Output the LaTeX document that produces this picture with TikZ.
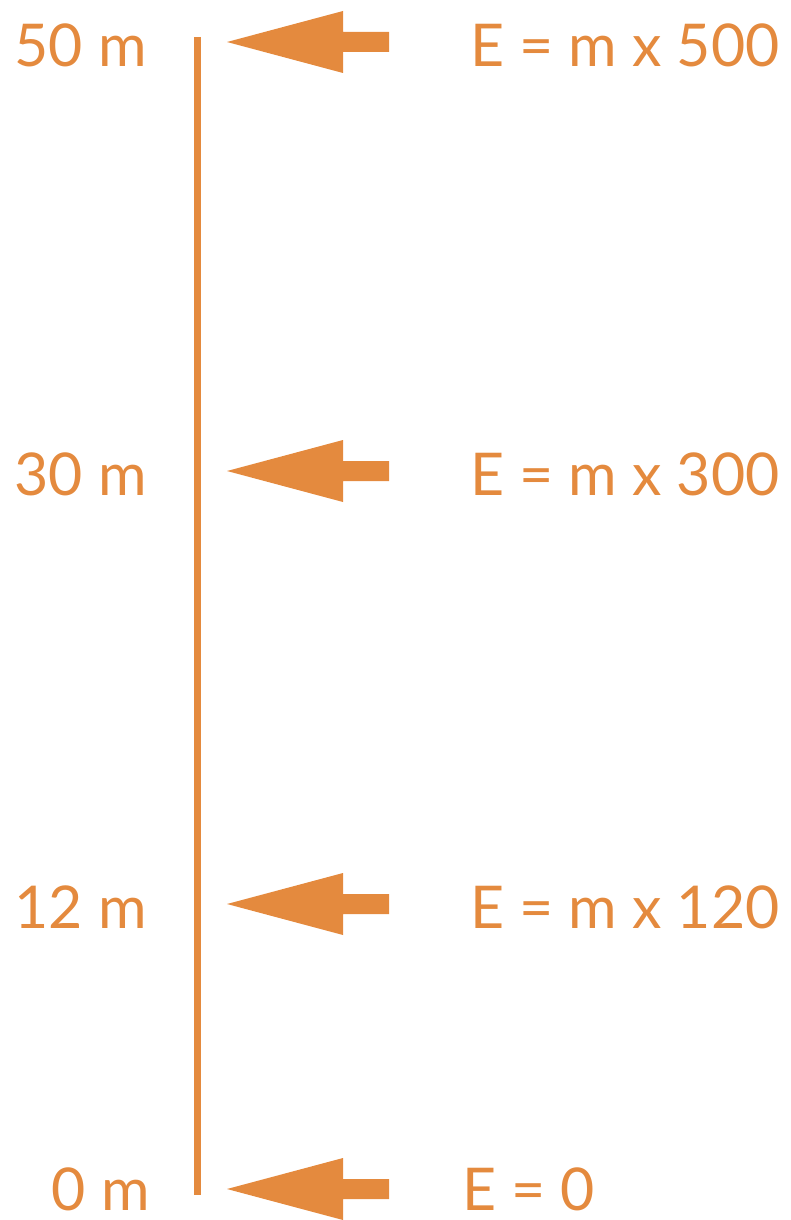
\documentclass[tikz,border=0pt]{standalone}
\usepackage{fontspec}
\setmainfont{Lato}
\usetikzlibrary{positioning}
\definecolor{heightorange}{RGB}{228,138,62}
\begin{document}
\begin{tikzpicture}[x=1pt,y=-1pt,font=\fontsize{59}{61}\selectfont,text=heightorange]
  \useasboundingbox (0,0) rectangle (791,1220);
  \coordinate (top) at (197,37);
  \coordinate (bot) at (197,1195);
  \draw[heightorange,line width=7pt] (top) -- (bot);
  \foreach \y/\dy/\hx/\h/\ex/\e/\name in {42/3/147/50 m/470/E = m x 500/a, 471/3/147/30 m/470/E = m x 300/b, 904/3/147/12 m/470/E = m x 120/c, 1189/0/150/0 m/462/E = 0/d}{
    \node[anchor=east,inner sep=0pt] (h\name) at (\hx,\y+\dy) {\h};
    \node[anchor=west,inner sep=0pt] (e\name) at (\ex,\y+\dy) {\e};
    \fill[heightorange] (227,\y) -- (343,\y-31) -- (343,\y-10) -- (389,\y-10) -- (389,\y+10) -- (343,\y+10) -- (343,\y+31) -- cycle;
  }
\end{tikzpicture}
\end{document}
